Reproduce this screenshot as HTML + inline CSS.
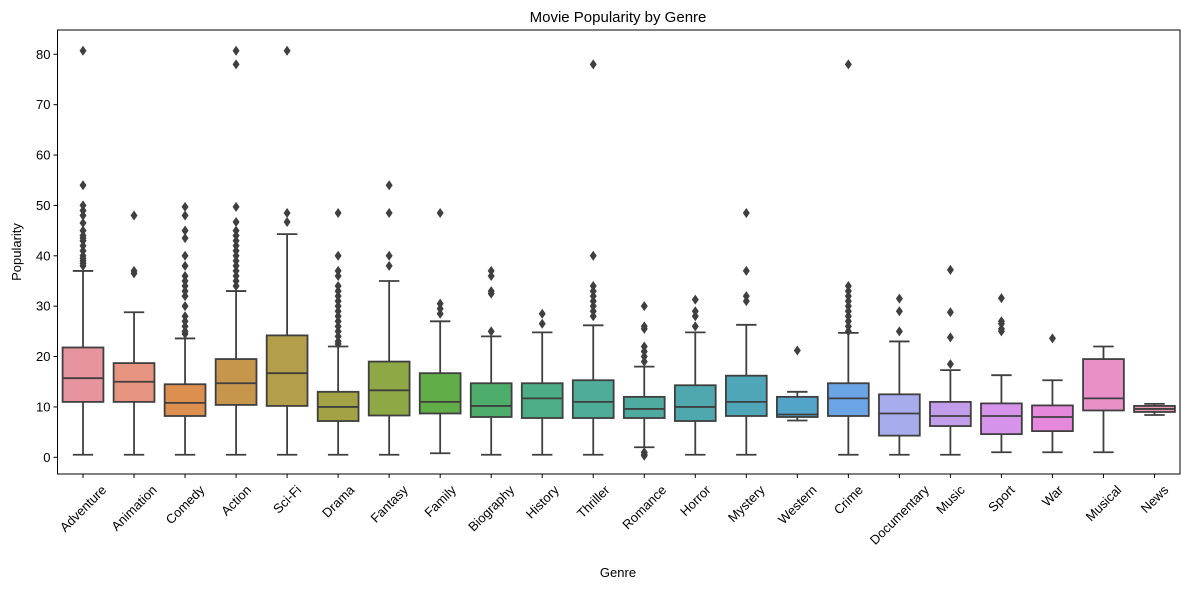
<!DOCTYPE html>
<html><head><meta charset="utf-8"><style>
body{margin:0;background:#fff;}
svg{display:block;font-family:"Liberation Sans","DejaVu Sans",sans-serif;}
</style></head><body>
<svg id="chart" width="1189" height="590" viewBox="0 0 1189 590" xmlns="http://www.w3.org/2000/svg">
<text x="618" y="22" text-anchor="middle" font-size="15" fill="#000">Movie Popularity by Genre</text>
<text x="618" y="577" text-anchor="middle" font-size="13" fill="#000">Genre</text>
<text transform="translate(21,252) rotate(-90)" text-anchor="middle" font-size="13" fill="#000">Popularity</text>
<g id="marks"></g>
<rect x="57.5" y="30" width="1122.5" height="444" fill="none" stroke="#000" stroke-width="1"/>
</svg>
<script>
const categories=["Adventure","Animation","Comedy","Action","Sci-Fi","Drama","Fantasy","Family","Biography","History","Thriller","Romance","Horror","Mystery","Western","Crime","Documentary","Music","Sport","War","Musical","News"];
const whiskerLow=[0.5,0.5,0.5,0.5,0.5,0.5,0.5,0.8,0.5,0.5,0.5,2,0.5,0.5,7.3,0.5,0.5,0.5,1,1,1,8.4];
const q1=[11,11,8.2,10.4,10.2,7.2,8.3,8.7,8,7.8,7.8,7.8,7.2,8.2,8,8.2,4.3,6.2,4.6,5.2,9.3,9];
const median=[15.7,15,10.8,14.7,16.7,10,13.3,11,10.2,11.7,11,9.6,10,11,8.5,11.7,8.7,8.2,8.2,8,11.7,9.6];
const q3=[21.8,18.7,14.5,19.5,24.2,13,19,16.7,14.7,14.7,15.3,12,14.3,16.2,12,14.7,12.5,11,10.7,10.3,19.5,10.2];
const whiskerHigh=[37,28.8,23.6,33,44.3,22,35,27,24,24.8,26.2,18,24.8,26.3,13,24.7,23,17.3,16.3,15.3,22,10.6];
const outliers=[
[38,38.5,39,39.5,40,41,42,43,43.5,44,45,46.5,48,49,50,54,80.7],
[36.5,37,48],
[24.5,25,26,27,28,30,32,33,34,35,36,38,40,43.5,45,48,49.7],
[34,35,36,37,38,39,40,41,42,43,44,45,46.7,49.7,78,80.7],
[46.7,48.5,80.7],
[22.5,23,24,25,26,27,28,29,30,31,32,33,34,36,37,40,48.5],
[38,40,48.5,54],
[28.5,29.5,30.5,48.5],
[25,32.5,33,36,37],
[26.5,28.5],
[28,29,30,31,32,33,34,40,78],
[0.3,0.6,1.0,19,20,21,22,25.5,26,30],
[26,28,29,31.3],
[31,32,37,48.5],
[21.2],
[25,26,27,28,29,30,31,32,33,34,78],
[25,29,31.5],
[18.5,23.8,28.8,37.2],
[25,25.5,26.5,27,31.6],
[23.6],
[],
[]
];
const yTicks=[0,10,20,30,40,50,60,70,80];
const colors=["#e8949f","#e69480","#dd8f4f","#c7964d","#b39e49","#a3a244","#8da844","#61ad48","#4cae6a","#4cad86","#4ead98","#4fab9f","#4ea8ae","#4fa6b9","#53a4c9","#6ca5e6","#a6acec","#c29dea","#d593e9","#e688dc","#e990c8","#e898b0"];
const NS="http://www.w3.org/2000/svg";
const L=57.5,R=1180,T=30,B=474;
const band=(R-L)/categories.length;
function xPos(i){return L+band*(i+0.5);}
function yPos(v){return 457.3-(457.3-54.3)/80*v;}
const g=document.getElementById('marks');
function mk(tag,attrs){const e=document.createElementNS(NS,tag);for(const k in attrs)e.setAttribute(k,attrs[k]);g.appendChild(e);return e;}
yTicks.forEach(t=>{
  const y=yPos(t);
  const tk=mk('line',{x1:L-4,x2:L,y1:y,y2:y,stroke:'#000'});
  
  
  const tx=mk('text',{x:L-7,y:y+4.5,'text-anchor':'end','font-size':13});
  tx.textContent=t;
  
  
});
const st='#3f3f3f',bw=band*0.8;
categories.forEach((c,i)=>{
  const x=xPos(i);
  const tk=mk('line',{x1:x,x2:x,y1:B,y2:B+4,stroke:'#000'});
  
  
  const tx=mk('text',{'text-anchor':'middle','font-size':13,'dominant-baseline':'central'});
  tx.textContent=c;
  
  
  const tw=tx.getComputedTextLength();
  const cy=B+9+(tw+13)*0.7071/2;
  tx.setAttribute('transform',`translate(${x},${cy}) rotate(-45)`);
  const w1=mk('line',{x1:x,x2:x,y1:yPos(whiskerLow[i]),y2:yPos(q1[i]),stroke:st,'stroke-width':1.8});
  
  
  const w2=mk('line',{x1:x,x2:x,y1:yPos(whiskerHigh[i]),y2:yPos(q3[i]),stroke:st,'stroke-width':1.8});
  
  
  [whiskerLow[i],whiskerHigh[i]].forEach(v=>{
    const cap=mk('line',{x1:x-bw/4,x2:x+bw/4,y1:yPos(v),y2:yPos(v),stroke:st,'stroke-width':1.8});
    
    
  });
  const bx=mk('rect',{x:x-bw/2,y:yPos(q3[i]),width:bw,height:yPos(q1[i])-yPos(q3[i]),fill:colors[i],stroke:st,'stroke-width':1.8});
  
  
  const md=mk('line',{x1:x-bw/2,x2:x+bw/2,y1:yPos(median[i]),y2:yPos(median[i]),stroke:st,'stroke-width':1.8});
  
  
  outliers[i].forEach(v=>{
    const y=yPos(v);
    const d=mk('polygon',{points:`${x},${y-5} ${x+3.5},${y} ${x},${y+5} ${x-3.5},${y}`,fill:st});
    
    
  });
});
</script>
</body></html>
